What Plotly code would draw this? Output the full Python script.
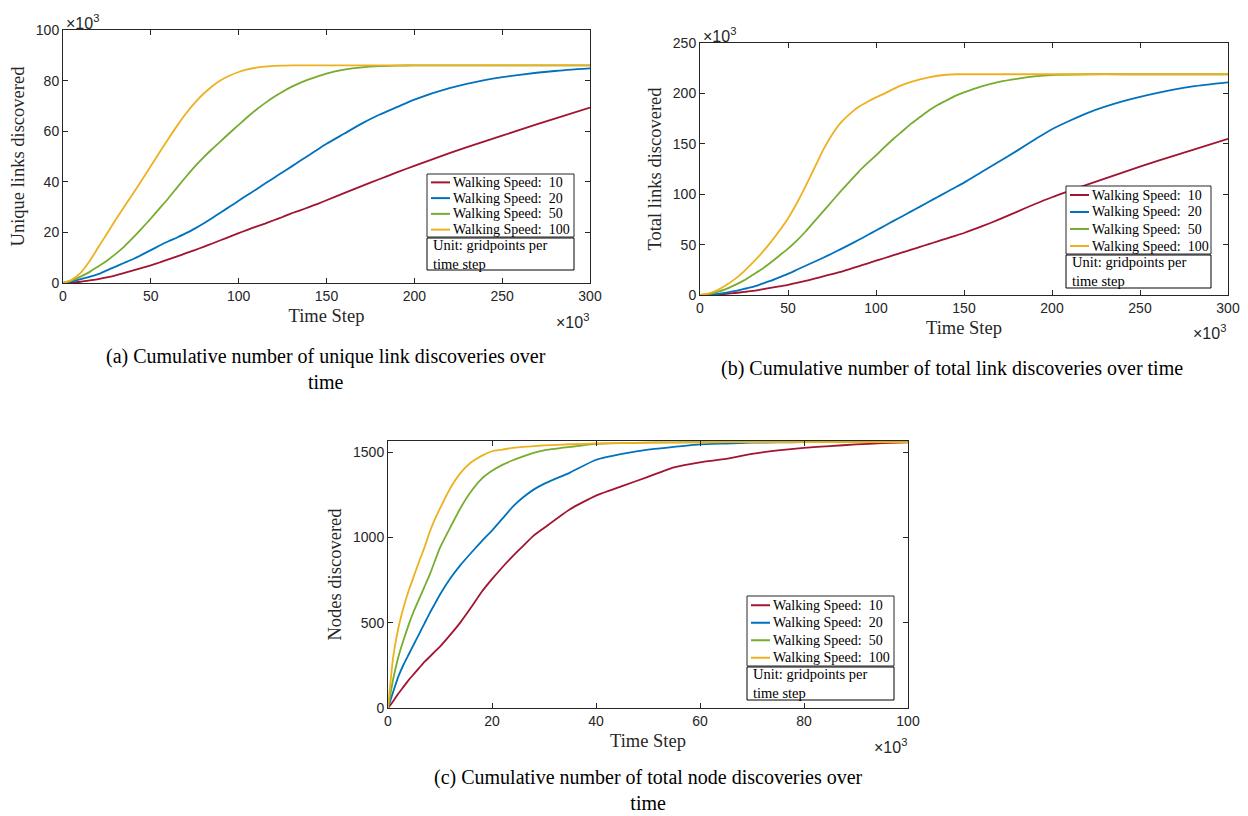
import plotly.graph_objects as go

# ---------------- data (x in units of 10^3 time steps) ----------------
speeds = ["Walking Speed:\u00a0 10", "Walking Speed:\u00a0 20", "Walking Speed:\u00a0 50", "Walking Speed:\u00a0 100"]
colors = ["#A2142F", "#0072BD", "#77AC30", "#EDB120"]

t_links = [0, 5, 10, 15, 20, 25, 30, 35, 40, 45, 50, 55, 60, 65, 70, 75, 80, 85, 90, 95,
           100, 105, 110, 115, 120, 125, 130, 135, 140, 145, 150,
           160, 170, 180, 190, 200, 220, 240, 260, 280, 300]

# (a) unique links discovered (x10^3)
unique_s10 = [0, 0.2, 0.5, 1, 1.5, 2.2, 3, 4, 5, 6, 7, 8.1, 9.3, 10.5, 11.8, 13, 14.3, 15.6, 17, 18.3,
              19.7, 21, 22.3, 23.5, 24.8, 26.1, 27.5, 28.7, 30, 31.3, 32.7,
              35.5, 38.3, 41, 43.7, 46.3, 51.3, 56, 60.5, 65, 69.3]
unique_s20 = [0, 0.6, 1.5, 2.4, 3.5, 5, 6.5, 8, 9.5, 11.2, 13, 14.8, 16.5, 18, 19.7, 21.5, 23.5, 25.7, 28, 30.2,
              32.5, 34.8, 37, 39.3, 41.5, 43.8, 46, 48.3, 50.5, 52.8, 55,
              59, 63, 66.5, 69.5, 72.5, 77, 80.2, 82.3, 83.8, 84.8]
unique_s50 = [0, 1, 2.5, 4.3, 6.5, 8.8, 11.5, 14.5, 18, 21.7, 25.5, 29.5, 33.5, 37.8, 42, 46, 49.7, 53, 56.2, 59.4,
              62.5, 65.6, 68.5, 71.1, 73.5, 75.6, 77.5, 79.1, 80.5, 81.7, 82.8,
              84.3, 85.2, 85.7, 85.9, 86, 86, 86, 86, 86, 86]
unique_s100 = [0, 1.3, 4, 8.5, 14, 19.5, 25, 30.3, 35.5, 40.8, 46.2, 51.7, 57, 62.2, 67, 71.2, 74.8, 77.8, 80.2, 82,
               83.4, 84.4, 85.1, 85.5, 85.8, 85.9, 86, 86, 86, 86, 86,
               86, 86, 86, 86, 86, 86, 86, 86, 86, 86]

# (b) total links discovered (x10^3)
total_s10 = [0, 0.1, 0.5, 1.2, 2, 3, 4, 5.5, 7, 8.5, 10, 12, 14, 16.2, 18.5, 20.7, 23, 25.7, 28.5, 31.2,
             34, 36.7, 39.5, 42.2, 45, 47.7, 50.5, 53.2, 56, 58.7, 61.5,
             68, 75, 82.5, 90, 97, 109.5, 121.5, 133, 144, 155]
total_s20 = [0, 0.3, 1, 2.3, 4, 6, 8, 11, 14, 17.5, 21, 25, 29, 33, 37, 41.2, 45.5, 50, 54.5, 59.2,
             64, 68.7, 73.5, 78.2, 83, 87.7, 92.5, 97.2, 102, 106.7, 111.5,
             122, 132.5, 143, 154, 164.5, 180.5, 192, 200.5, 207, 211]
total_s50 = [0, 1, 3, 6, 10, 14.5, 20, 25.5, 32, 39, 46, 54, 63, 73, 83, 93, 103, 112.5, 122, 130.5,
             138.5, 147, 155, 162.5, 170, 176.5, 183, 188.5, 193, 197.5, 201,
             207, 211.5, 214.5, 216.8, 218.2, 219, 219, 219, 219, 219]
total_s100 = [0, 1.5, 5, 10, 16, 23.5, 32, 41.5, 52, 63.5, 76, 91, 108, 126, 144, 159, 171, 179.5, 186.5, 191.5,
              196, 200, 204.5, 208.5, 211.5, 214, 216, 217.5, 218.5, 219, 219,
              219, 219, 219, 219, 219, 219, 219, 219, 219, 219]

# (c) nodes discovered
t_nodes = [0, 1, 2, 3, 4, 5, 6, 7, 8, 9, 10, 12, 14, 16, 18, 20, 22, 24, 26, 28, 30,
           35, 40, 45, 50, 55, 60, 65, 70, 75, 80, 85, 90, 95, 100]
nodes_s10 = [0, 40, 85, 125, 165, 200, 235, 270, 300, 330, 360, 430, 505, 590, 680, 755, 825,
             890, 950, 1010, 1055, 1165, 1245, 1300, 1355, 1410, 1440, 1460, 1490, 1510,
             1525, 1535, 1545, 1552, 1557]
nodes_s20 = [0, 95, 185, 255, 315, 375, 435, 495, 555, 610, 665, 760, 840, 910, 977, 1040,
             1110, 1180, 1235, 1280, 1314, 1380, 1455, 1490, 1515, 1530, 1545, 1550, 1555,
             1557, 1558, 1558, 1558, 1558, 1558]
nodes_s50 = [0, 170, 300, 400, 490, 570, 640, 710, 780, 860, 940, 1060, 1175, 1270, 1343,
             1390, 1425, 1452, 1475, 1495, 1510, 1530, 1548, 1553, 1556, 1557, 1558, 1558,
             1558, 1558, 1558, 1558, 1558, 1558, 1558]
nodes_s100 = [0, 300, 470, 590, 690, 775, 860, 940, 1030, 1105, 1170, 1290, 1380, 1440, 1478,
              1505, 1515, 1525, 1530, 1535, 1539, 1546, 1551, 1553, 1555, 1556, 1557, 1558,
              1558, 1558, 1558, 1558, 1558, 1558, 1558]

x_ticks_links = [0, 50, 100, 150, 200, 250, 300]
x_ticks_nodes = [0, 20, 40, 60, 80, 100]
y_ticks_unique = [0, 20, 40, 60, 80, 100]
y_ticks_total = [0, 50, 100, 150, 200, 250]
y_ticks_nodes = [0, 500, 1000, 1500]

unit_text = "Unit: gridpoints per<br>time step"
captions = ["(a) Cumulative number of unique link discoveries over<br>time",
            "(b) Cumulative number of total link discoveries over time",
            "(c) Cumulative number of total node discoveries over<br>time"]

# ---------------- figure ----------------
W, H = 1248, 816
def px(x):
    return x / W
def py(y):
    return 1 - y / H

AX = "#262626"
SANS = "Liberation Sans, Arial, sans-serif"
SERIF = "Liberation Serif, Times New Roman, serif"

fig = go.Figure()

panels = [
    dict(t=t_links, ys=[unique_s10, unique_s20, unique_s50, unique_s100], xa="x", ya="y", sm=0.6),
    dict(t=t_links, ys=[total_s10, total_s20, total_s50, total_s100], xa="x2", ya="y2", sm=0.6),
    dict(t=t_nodes, ys=[nodes_s10, nodes_s20, nodes_s50, nodes_s100], xa="x3", ya="y3", sm=0.5),
]
for p in panels:
    for name, col, y in zip(speeds, colors, p["ys"]):
        fig.add_trace(go.Scatter(x=p["t"], y=y, name=name.replace("\u00a0", ""), mode="lines",
                                 line=dict(color=col, width=1.8, shape="spline", smoothing=p["sm"]),
                                 xaxis=p["xa"], yaxis=p["ya"], showlegend=False))

def axis(domain, rng, tickvals, title, standoff, anchor):
    return dict(domain=domain, range=rng, tickvals=tickvals, ticks="inside", ticklen=5,
                tickcolor=AX, showline=True, linecolor=AX, linewidth=1, mirror="allticks",
                showgrid=False, zeroline=False, automargin=False, anchor=anchor,
                tickfont=dict(family=SANS, size=14, color=AX),
                title=dict(text=title, font=dict(family=SERIF, size=18.5, color=AX), standoff=standoff))

fig.update_layout(
    xaxis=axis([px(63), px(590)], [0, 300], x_ticks_links, "Time Step", 6, "y"),
    yaxis=axis([py(283), py(30)], [0, 100], y_ticks_unique, "Unique links discovered", 6, "x"),
    xaxis2=axis([px(700), px(1228)], [0, 300], x_ticks_links, "Time Step", 6, "y2"),
    yaxis2=axis([py(295), py(43)], [0, 250], y_ticks_total, "Total links discovered", 6, "x2"),
    xaxis3=axis([px(388), px(908)], [0, 100], x_ticks_nodes, "Time Step", 6, "y3"),
    yaxis3=axis([py(708), py(441)], [0, 1565], y_ticks_nodes, "Nodes discovered", 6, "x3"),
)

shapes = []
annotations = []

# legend boxes drawn as boxes, sample lines and text: (left, right, top, bottom, unit_bottom)
legend_boxes = [(427, 574, 174, 237, 270), (1066, 1211, 186, 254, 288), (747, 894, 596, 666, 700)]
for left, right, top, bottom, ubot in legend_boxes:
    shapes.append(dict(type="rect", xref="paper", yref="paper", x0=px(left), x1=px(right),
                       y0=py(bottom), y1=py(top), line=dict(color=AX, width=1), fillcolor="white",
                       layer="above"))
    shapes.append(dict(type="rect", xref="paper", yref="paper", x0=px(left), x1=px(right),
                       y0=py(ubot), y1=py(bottom + 1), line=dict(color="black", width=1),
                       fillcolor="white", layer="above"))
    h = bottom - top
    for i, (name, col) in enumerate(zip(speeds, colors)):
        yc = top + 0.5 + (i + 0.5) * h / 4
        shapes.append(dict(type="line", xref="paper", yref="paper", x0=px(left + 4),
                           x1=px(left + 23), y0=py(yc), y1=py(yc),
                           line=dict(color=col, width=2), layer="above"))
        annotations.append(dict(x=px(left + 24), y=py(yc), xref="paper", yref="paper",
                                xanchor="left", yanchor="middle", showarrow=False, text=name,
                                font=dict(family=SERIF, size=14, color="black")))
    annotations.append(dict(x=px(left + 4), y=py((bottom + ubot) / 2 + 0.5), xref="paper",
                            yref="paper", xanchor="left", yanchor="middle", showarrow=False,
                            align="left", text=unit_text,
                            font=dict(family=SERIF, size=14.5, color="black")))

# exponent labels
for x, y, anchor in [(64, 22, "left"), (701, 35, "left"), (591, 321, "right"),
                     (1228, 332, "right"), (909, 746, "right")]:
    annotations.append(dict(x=px(x), y=py(y), xref="paper", yref="paper", xanchor=anchor,
                            yanchor="middle", showarrow=False, text="\u00d710<sup>3</sup>",
                            font=dict(family=SANS, size=16, color=AX)))
# captions
for cx, cy, txt in [(326, 369, captions[0]), (952, 369, captions[1]), (648, 790, captions[2])]:
    annotations.append(dict(x=px(cx), y=py(cy), xref="paper", yref="paper", xanchor="center",
                            yanchor="middle", showarrow=False, text=txt,
                            font=dict(family=SERIF, size=20, color="black")))

fig.update_layout(shapes=shapes, annotations=annotations, width=W, height=H,
                  margin=dict(l=0, r=0, t=0, b=0), paper_bgcolor="white",
                  plot_bgcolor="white", showlegend=False)

fig.write_html("out.html")
